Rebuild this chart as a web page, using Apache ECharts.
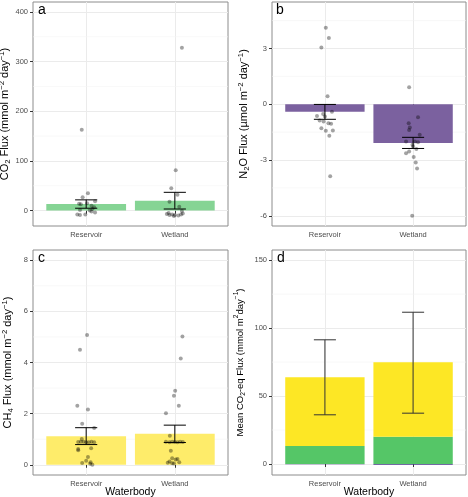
<!DOCTYPE html>
<html>
<head>
<meta charset="utf-8">
<script src="https://cdn.jsdelivr.net/npm/echarts@6/dist/echarts.min.js"></script>
<style>
html, body { margin: 0; padding: 0; background: #fff; }
#chart { width: 468px; height: 497px; }
</style>
</head>
<body>
<div id="chart"></div>
<script>
var waterbodies = ['Reservoir', 'Wetland'];

// a: CO2 flux, bar = mean, err = mean +/- se
var co2Mean = [13.2, 20.0];
var co2Low = [4.8, 3.2];
var co2High = [21.6, 36.8];
// points: [jitter offset from category, value]
var co2Res = [[-0.05,163],[0.02,35],[-0.04,27],[0.1,19],[-0.08,14],[-0.06,13],[0.01,15],[0.06,10],[0.09,7],[0.07,3],[-0.07,1],[0.04,0],[0.1,-4],[-0.1,-8],[-0.07,-9],[-0.01,-8],[0.06,-2]];
var co2Wet = [[0.08,328],[0.01,81],[-0.04,45],[0.03,32],[-0.06,18],[0.05,8],[0.08,-1],[-0.09,-7],[-0.06,-9],[-0.03,-8],[0.0,-9],[0.04,-10],[0.07,-8],[-0.01,-11],[0.09,-6],[-0.07,-5]];

// b: N2O flux
var n2oMean = [-0.41, -2.09];
var n2oLow = [-0.81, -2.38];
var n2oHigh = [-0.01, -1.78];
var n2oRes = [[0.01,4.11],[0.045,3.57],[-0.04,3.05],[0.03,0.43],[0.08,-0.41],[-0.09,-0.63],[-0.02,-0.52],[0.0,-0.66],[-0.06,-0.88],[-0.015,-0.93],[0.04,-1.02],[0.07,-1.05],[-0.04,-1.29],[0.01,-1.43],[0.09,-1.41],[0.05,-1.7],[0.06,-3.88]];
var n2oWet = [[-0.045,0.91],[0.056,-0.7],[-0.05,-1.02],[-0.037,-1.25],[-0.045,-1.38],[0.075,-1.64],[-0.08,-2.0],[0.02,-2.0],[0.056,-2.05],[-0.007,-2.18],[0.0,-2.27],[0.037,-2.41],[-0.045,-2.54],[-0.08,-2.63],[0.007,-2.84],[0.03,-3.13],[0.045,-3.46],[-0.01,-6.0]];

// c: CH4 flux
var ch4Mean = [1.12, 1.21];
var ch4Low = [0.79, 0.87];
var ch4High = [1.45, 1.55];
var ch4Res = [[0.01,5.08],[-0.07,4.5],[-0.1,2.31],[0.02,2.16],[-0.045,1.6],[0.09,1.44],[-0.05,1.01],[-0.09,0.89],[-0.06,0.9],[-0.03,0.9],[0.0,0.88],[0.03,0.88],[0.06,0.9],[0.09,0.88],[-0.09,0.62],[-0.09,0.57],[0.056,0.65],[0.0,0.16],[0.02,0.3],[-0.045,0.07],[0.05,0.1],[0.07,0.0],[0.045,0.04]];
var ch4Wet = [[0.086,5.02],[0.067,4.16],[0.004,2.9],[-0.01,2.7],[0.045,2.31],[-0.1,2.02],[-0.056,1.14],[-0.1,0.9],[-0.06,0.88],[-0.03,0.9],[0.0,0.89],[0.03,0.88],[0.06,0.9],[0.09,0.89],[-0.045,0.55],[-0.03,0.26],[0.01,0.21],[0.03,0.23],[-0.06,0.13],[-0.03,0.06],[-0.01,0.05],[0.05,0.1],[-0.08,0.08]];

// d: mean CO2-eq flux, stacked parts
var eqCO2 = [13.2, 20.0];
var eqCH4 = [50.6, 54.8];
var eqN2O = [-0.12, -0.62];
var eqLow = [36.2, 37.4];
var eqHigh = [91.4, 111.7];

// axis ticks
var ticksA = [0, 100, 200, 300, 400], minorA = [50, 150, 250, 350];
var ticksB = [-6, -3, 0, 3], minorB = [-4.5, -1.5, 1.5, 4.5];
var ticksC = [0, 2, 4, 6, 8], minorC = [1, 3, 5, 7];
var ticksD = [0, 50, 100, 150], minorD = [25, 75, 125];

var font = 'Liberation Sans, Arial, sans-serif';

function barItem(color) {
    return function (params, api) {
        var x = api.value(0);
        var p1 = api.coord([x - 0.45, api.value(2)]);
        var p2 = api.coord([x + 0.45, api.value(1)]);
        return {
            type: 'rect',
            shape: { x: p1[0], y: Math.min(p1[1], p2[1]), width: p2[0] - p1[0], height: Math.abs(p2[1] - p1[1]) },
            style: { fill: color }
        };
    };
}

function errItem(color) {
    return function (params, api) {
        var x = api.value(0);
        var lo = api.coord([x, api.value(1)]);
        var hi = api.coord([x, api.value(2)]);
        var l = api.coord([x - 0.125, 0])[0];
        var r = api.coord([x + 0.125, 0])[0];
        var st = { stroke: color, lineWidth: 1 };
        return {
            type: 'group',
            children: [
                { type: 'line', shape: { x1: lo[0], y1: lo[1], x2: hi[0], y2: hi[1] }, style: st },
                { type: 'line', shape: { x1: l, y1: lo[1], x2: r, y2: lo[1] }, style: st },
                { type: 'line', shape: { x1: l, y1: hi[1], x2: r, y2: hi[1] }, style: st }
            ]
        };
    };
}

function minorItem(params, api) {
    var a = api.coord([0.4, api.value(1)]);
    var b = api.coord([2.6, api.value(1)]);
    return {
        type: 'line',
        shape: { x1: a[0], y1: a[1], x2: b[0], y2: b[1] },
        style: { stroke: '#f3f3f3', lineWidth: 0.6 }
    };
}

function bars(i, base, top, color) {
    return {
        type: 'custom', xAxisIndex: i, yAxisIndex: i, z: 2,
        renderItem: barItem(color),
        encode: { x: 0, y: [1, 2] },
        data: waterbodies.map(function (w, k) { return [k + 1, base[k], top[k]]; })
    };
}

function errs(i, low, high, color) {
    return {
        type: 'custom', xAxisIndex: i, yAxisIndex: i, z: 4,
        renderItem: errItem(color),
        encode: { x: 0, y: [1, 2] },
        data: waterbodies.map(function (w, k) { return [k + 1, low[k], high[k]]; })
    };
}

function points(i, res, wet) {
    var d = res.map(function (p) { return [1 + p[0], p[1]]; })
        .concat(wet.map(function (p) { return [2 + p[0], p[1]]; }));
    return {
        type: 'scatter', xAxisIndex: i, yAxisIndex: i, z: 3,
        symbolSize: 4,
        itemStyle: { color: 'rgba(0,0,0,0.45)' },
        data: d
    };
}

function minors(i, vals) {
    return {
        type: 'custom', xAxisIndex: i, yAxisIndex: i, z: 1,
        renderItem: minorItem,
        encode: { x: 0, y: 1 },
        data: vals.map(function (v) { return [1, v]; })
    };
}

function richName(size) {
    return {
        color: '#000', fontFamily: font,
        rich: {
            t: { fontSize: size, lineHeight: 14, fontFamily: font, color: '#000' },
            sup: { fontSize: size * 0.7, lineHeight: 6, verticalAlign: 'top', fontFamily: font, color: '#000' },
            sub: { fontSize: size * 0.7, lineHeight: 8, verticalAlign: 'bottom', fontFamily: font, color: '#000' }
        }
    };
}

function yAxisOf(i, min, max, ticks, name, gap, size) {
    return {
        type: 'value', gridIndex: i, min: min, max: max,
        name: name, nameLocation: 'middle', nameGap: gap, nameRotate: 90,
        nameTextStyle: richName(size),
        axisLine: { show: false },
        axisTick: { show: true, length: 3, customValues: ticks, lineStyle: { color: '#333' } },
        axisLabel: { customValues: ticks, color: '#4d4d4d', fontSize: 7.5, margin: 5, fontFamily: font },
        splitLine: { show: true, lineStyle: { color: '#ebebeb', width: 1 } }
    };
}

function xAxisOf(i, title) {
    return {
        type: 'value', gridIndex: i, min: 0.4, max: 2.6,
        name: title, nameLocation: 'middle', nameGap: 12, nameMoveOverlap: false,
        nameTextStyle: { color: '#000', fontSize: 10.5, fontFamily: font },
        axisLine: { show: false },
        axisTick: { show: true, length: 3, customValues: [1, 2], lineStyle: { color: '#333' } },
        axisLabel: {
            customValues: [1, 2], color: '#4d4d4d', fontSize: 7.5, margin: 5, fontFamily: font,
            formatter: function (v) { return waterbodies[Math.round(v) - 1]; }
        },
        splitLine: { show: true, lineStyle: { color: '#ebebeb', width: 1 } }
    };
}

function panelGrid(left, top, width, height) {
    return { left: left, top: top, width: width, height: height, show: true,
        outerBoundsMode: 'none', containLabel: false,
        borderColor: '#8c8c8c', borderWidth: 1, backgroundColor: '#fff' };
}

function tag(text, left, top) {
    return { text: text, left: left, top: top, padding: 0,
        textStyle: { fontSize: 14, fontWeight: 'normal', color: '#000', fontFamily: font } };
}

var zeros = [0, 0];
var eqTop = eqCO2.map(function (v, k) { return v + eqCH4[k]; });

var option = {
    animation: false,
    backgroundColor: '#fff',
    title: [tag('a', 38, 3), tag('b', 276, 3), tag('c', 38, 251), tag('d', 277, 251)],
    grid: [
        panelGrid(33, 2, 195, 224),
        panelGrid(272, 2, 194, 224),
        panelGrid(33, 250, 195, 225),
        panelGrid(272, 250, 194, 225)
    ],
    xAxis: [xAxisOf(0, ''), xAxisOf(1, ''), xAxisOf(2, 'Waterbody'), xAxisOf(3, 'Waterbody')],
    yAxis: [
        yAxisOf(0, -31, 420, ticksA, '{t|CO}{sub|2}{t| Flux (mmol m}{sup|\u22122}{t| day}{sup|\u22121}{t|)}', 18, 11),
        yAxisOf(1, -6.55, 5.5, ticksB, '{t|N}{sub|2}{t|O Flux (\u00b5mol m}{sup|\u22122}{t| day}{sup|\u22121}{t|)}', 21, 11),
        yAxisOf(2, -0.4, 8.4, ticksC, '{t|CH}{sub|4}{t| Flux (mmol m}{sup|\u22122}{t| day}{sup|\u22121}{t|)}', 18, 11),
        yAxisOf(3, -8.1, 157.5, ticksD, '{t|Mean CO}{sub|2}{t|-eq Flux (mmol m}{sup|2}{t|day}{sup|\u22121}{t|)}', 25, 9.5)
    ],
    series: [
        minors(0, minorA), minors(1, minorB), minors(2, minorC), minors(3, minorD),
        bars(0, zeros, co2Mean, '#85d494'),
        points(0, co2Res, co2Wet),
        errs(0, co2Low, co2High, '#000'),
        bars(1, zeros, n2oMean, '#7b619f'),
        points(1, n2oRes, n2oWet),
        errs(1, n2oLow, n2oHigh, '#000'),
        bars(2, zeros, ch4Mean, '#feec6a'),
        points(2, ch4Res, ch4Wet),
        errs(2, ch4Low, ch4High, '#000'),
        bars(3, zeros, eqCO2, '#55c667'),
        bars(3, eqCO2, eqTop, '#fde725'),
        bars(3, zeros, eqN2O, '#4b3c8c'),
        errs(3, eqLow, eqHigh, '#333')
    ]
};

var myChart = echarts.init(document.getElementById('chart'));
myChart.setOption(option);
</script>
</body>
</html>
